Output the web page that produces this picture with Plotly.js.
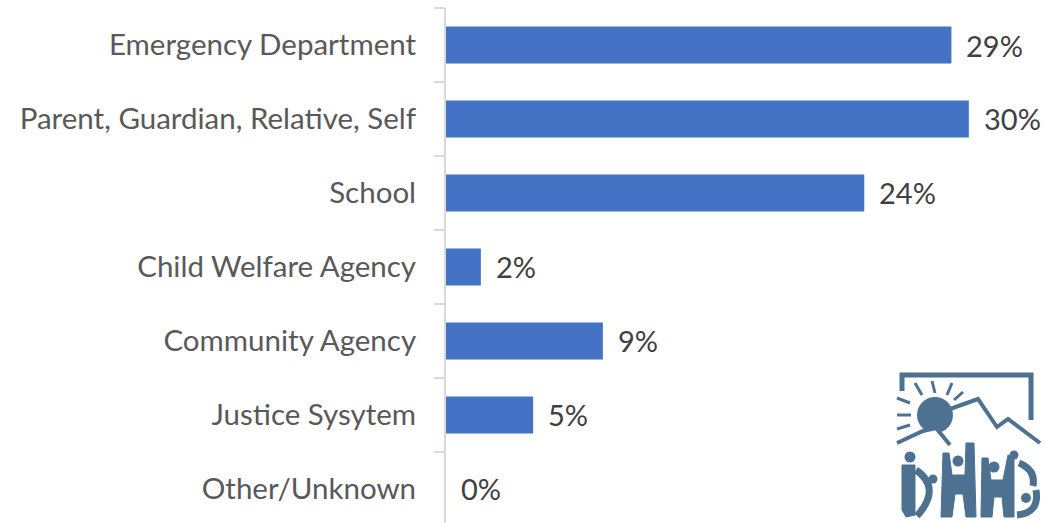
<!DOCTYPE html>
<html><head><meta charset="utf-8">
<script src="https://cdn.plot.ly/plotly-3.0.1.min.js"></script>
<style>html,body{margin:0;padding:0;background:#fff;}#chart{width:1045px;height:523px;}</style>
</head><body><div id="chart"></div>
<script>
const categories = ["Emergency Department","Parent, Guardian, Relative, Self","School","Child Welfare Agency","Community Agency","Justice Sysytem","Other/Unknown"];
const values = [29, 30, 24, 2, 9, 5, 0];
const valueLabels = ["29%","30%","24%","2%","9%","5%","0%"];

const FONT = "Lato, 'Open Sans', sans-serif";
const logoColor = "#4D7190";

const trace = {
  type: "bar", orientation: "h",
  x: values, y: categories,
  marker: {color: "#4472C4"},
  width: 0.5, hoverinfo: "skip"
};

const annotations = values.map((v, i) => ({
  x: v, y: categories[i], xref: "x", yref: "y",
  text: valueLabels[i], showarrow: false,
  xanchor: "left", xshift: 13, yanchor: "middle",
  font: {family: FONT, size: 29, color: "#404040"}
}));

const layout = {
  width: 1045, height: 523,
  margin: {l: 446, r: 0, t: 8, b: 0},
  paper_bgcolor: "#fff", plot_bgcolor: "#fff",
  showlegend: false,
  xaxis: {range: [0, 34.37], visible: false, fixedrange: true},
  yaxis: {
    type: "category", range: [6.46, -0.5], autorange: false,
    showline: true, linecolor: "#d9d9d9", linewidth: 2,
    ticks: "outside", ticklen: 10, tickcolor: "#d9d9d9", tickwidth: 2,
    tickson: "boundaries", showgrid: false, zeroline: false,
    ticklabelstandoff: 22,
    tickfont: {family: FONT, size: 29.5, color: "#595959"}
  },
  annotations: annotations
};

// Logo (decorative) drawn with shapes, positioned in paper space
const W = 1045 - 446, H = 523 - 8;
function px(x){ return (x - 446) / W; }
function py(y){ return (523 - y) / H; }
function P(x, y){ return px(x).toFixed(5) + " " + py(y).toFixed(5); }
function line(pts, w){ return {type:"path", xref:"paper", yref:"paper", layer:"above",
  path: pts.map((p,i)=> (i? "L ":"M ") + P(p[0],p[1])).join(" "), line:{color:logoColor, width:w}}; }
function poly(pts){ return {type:"path", xref:"paper", yref:"paper", layer:"above",
  path: pts.map((p,i)=> (i? "L ":"M ") + P(p[0],p[1])).join(" ") + " Z", fillcolor:logoColor, line:{color:logoColor, width:1}}; }
function curve(d, w, fill){ // d: array of commands with pixel coords
  const s = d.map(c => c[0] + " " + c.slice(1).reduce((a,v,i)=>{ if(i%2===0){a.push([v]);} else {a[a.length-1].push(v);} return a; }, []).map(p=>P(p[0],p[1])).join(" ")).join(" ");
  return {type:"path", xref:"paper", yref:"paper", layer:"above", path: s + (fill? " Z":""),
    fillcolor: fill? logoColor : undefined, line:{color:logoColor, width:w}};
}
function circ(cx, cy, r){ return {type:"circle", xref:"paper", yref:"paper", layer:"above",
  x0:px(cx-r), x1:px(cx+r), y0:py(cy+r), y1:py(cy-r), fillcolor:logoColor, line:{width:0}}; }

const S = [];
// frame
S.push(line([[902,391],[902,375],[1031,375],[1031,420]], 5));
// sun
S.push(circ(935, 415, 18));
// white cut under sun (valley)
S.push({type:"path", xref:"paper", yref:"paper", layer:"above",
  path: "M " + P(922,433) + " L " + P(938,428) + " L " + P(952,446) + " L " + P(920,446) + " Z",
  fillcolor:"#fff", line:{width:0}});
// mountain ridges
S.push(line([[897,443],[923,431],[936,428],[950,445]], 4));
S.push(line([[950,409],[978,399],[997,427],[1008,419],[1040,443]], 4));
// rays
[[[915,383],[922,395]],[[932,381],[935,393]],[[952,383],[947,395]],[[897,398],[910,403]],
 [[897,415],[911,415]],[[897,429],[910,425]],[[963,392],[954,400]]].forEach(r => S.push(line(r, 3)));
// D figure
S.push(circ(910, 457, 5.5));
S.push(curve([["M",902,465],["L",915,465],["L",915,515],["L",906,517],["L",902,510]], 1, true));
S.push(curve([["M",916,470],["Q",942,488,917,516]], 7, false));
S.push(circ(933, 479, 4.5));
// H figure 1
S.push(circ(958, 461, 5.5));
S.push(poly([[943,453],[949,453],[952,475],[965,475],[966,443],[974,443],[976,517],[966,517],[963,494],[955,494],[952,517],[941,517]]));
// H figure 2
S.push(circ(994, 467, 5.5));
S.push(poly([[982,458],[988,458],[991,480],[1003,480],[1008,455],[1014,457],[1014,517],[1004,517],[1002,497],[994,497],[992,517],[981,517]]));
// S figure
S.push(circ(1014, 455, 4.5));
S.push(curve([["M",1019,463],["Q",1036,470,1033,486]], 7, false));
S.push(circ(1026, 498, 5));
S.push(curve([["M",1036,490],["Q",1040,513,1017,515]], 7, false));
layout.shapes = S;

Plotly.newPlot("chart", [trace], layout, {displayModeBar: false, staticPlot: true});
</script></body></html>
